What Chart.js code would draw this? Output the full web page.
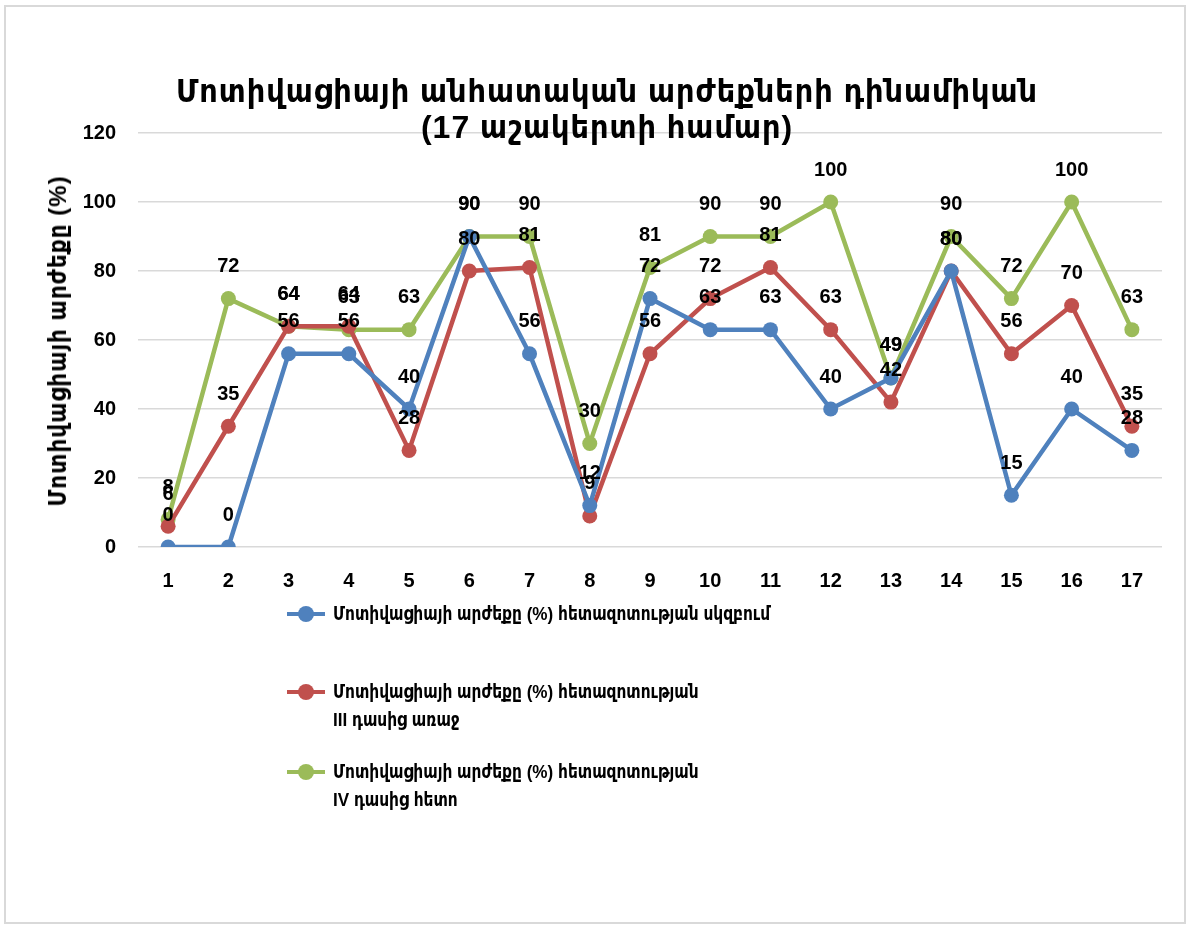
<!DOCTYPE html>
<html>
<head>
<meta charset="utf-8">
<script src="https://cdn.jsdelivr.net/npm/chart.js@4.4.1/dist/chart.umd.min.js"></script>
<style>
  html, body { margin: 0; padding: 0; background: #fff; }
  body { width: 1190px; height: 928px; position: relative; overflow: hidden;
         font-family: 'Liberation Sans', 'DejaVu Sans Condensed', 'DejaVu Sans', sans-serif; font-weight: bold; }
  #frame { position: absolute; left: 4px; top: 5px; width: 1182px; height: 919px; border: 2px solid #d9d9d9; box-sizing: border-box; }
  #wrap { position: absolute; left: 0; top: 0; width: 1190px; height: 928px; }
  #title { position: absolute; left: 0; width: 1214px; top: 73px; text-align: center;
           font-size: 32px; line-height: 36px; letter-spacing: 1px; color: #000; }
  #ytitle { position: absolute; left: 58px; top: 341px; transform: translate(-50%, -50%) rotate(-90deg);
            font-size: 24px; letter-spacing: 1px; white-space: nowrap; color: #000; }
  .leg { position: absolute; left: 287px; font-size: 19px; line-height: 28px; color: #000; }
  .leg .sym { position: absolute; left: 0; top: 12px; width: 38px; height: 4px; }
  .leg .sym i { position: absolute; left: 11px; top: -6px; width: 16px; height: 16px; border-radius: 50%; }
  .leg .txt { margin-left: 46px; white-space: nowrap; transform: scaleX(0.9); transform-origin: left center; }
</style>
</head>
<body>
<div id="frame"></div>
<div id="wrap"><canvas id="c" width="1190" height="928"></canvas></div>
<div id="title">Մոտիվացիայի անհատական արժեքների դինամիկան<br>(17 աշակերտի համար)</div>
<div id="ytitle">Մոտիվացիայի արժեքը (%)</div>
<div id="legend"></div>
<script>
const BLUE  = '#4F81BD';
const RED   = '#C0504D';
const GREEN = '#9BBB59';
const GRID  = '#d9d9d9';
const FONT  = "'Liberation Sans', 'DejaVu Sans Condensed', 'DejaVu Sans', sans-serif";

const students = ['1','2','3','4','5','6','7','8','9','10','11','12','13','14','15','16','17'];
const startVals  = [0, 0, 56, 56, 40, 90, 56, 12, 72, 63, 63, 40, 49, 80, 15, 40, 28];
const beforeIII  = [6, 35, 64, 64, 28, 80, 81, 9, 56, 72, 81, 63, 42, 80, 56, 70, 35];
const afterIV    = [8, 72, 64, 63, 63, 90, 90, 30, 81, 90, 90, 100, 49, 90, 72, 100, 63];
const yTicks     = [0, 20, 40, 60, 80, 100, 120];

const seriesNames = [
  ['Մոտիվացիայի արժեքը (%) հետազոտության սկզբում'],
  ['Մոտիվացիայի արժեքը (%) հետազոտության', 'III դասից առաջ'],
  ['Մոտիվացիայի արժեքը (%) հետազոտության', 'IV դասից հետո'],
];
const seriesColors = [BLUE, RED, GREEN];
const seriesData = [startVals, beforeIII, afterIV];

// data labels above each point
const valueLabels = {
  id: 'valueLabels',
  afterDatasetsDraw(chart) {
    const ctx = chart.ctx;
    ctx.save();
    ctx.font = `bold 20px ${FONT}`;
    ctx.fillStyle = '#000';
    ctx.textAlign = 'center';
    ctx.textBaseline = 'middle';
    chart.data.datasets.forEach((ds, i) => {
      chart.getDatasetMeta(i).data.forEach((pt, j) => {
        ctx.fillText(String(ds.data[j]), pt.x, pt.y - 32);
      });
    });
    ctx.restore();
  },
};

new Chart(document.getElementById('c'), {
  type: 'line',
  data: {
    labels: students,
    datasets: seriesData.map((d, i) => ({
      label: seriesNames[i].join(' '),
      data: d,
      borderColor: seriesColors[i],
      backgroundColor: seriesColors[i],
      borderWidth: 4.5,
      pointRadius: 7.5,
      pointHoverRadius: 7.5,
      pointBorderWidth: 0,
      tension: 0,
    })),
  },
  options: {
    responsive: false,
    animation: false,
    layout: { padding: { left: 0, right: 28, top: 133, bottom: 331 } },
    plugins: {
      legend: { display: false },
      title: { display: false },
      tooltip: { enabled: false },
    },
    scales: {
      x: {
        offset: true,
        grid: { display: false },
        border: { display: false },
        ticks: { color: '#000', font: { family: FONT, size: 20, weight: 'bold' }, padding: 14 },
        afterFit(s) { s.height = 50; },
      },
      y: {
        min: 0, max: 120,
        afterBuildTicks(s) { s.ticks = yTicks.map(v => ({ value: v })); },
        grid: { color: GRID, lineWidth: 1.5, drawTicks: false },
        border: { display: false },
        ticks: { color: '#000', font: { family: FONT, size: 20, weight: 'bold' }, padding: 22 },
        afterFit(s) { s.width = 138; },
      },
    },
  },
  plugins: [valueLabels],
});

// legend (html, multi-line entries)
const legendTops = [600, 678, 758];
const legendEl = document.getElementById('legend');
seriesNames.forEach((lines, i) => {
  const item = document.createElement('div');
  item.className = 'leg';
  item.style.top = legendTops[i] + 'px';
  item.innerHTML = `<div class="sym" style="background:${seriesColors[i]}"><i style="background:${seriesColors[i]}"></i></div>` +
    `<div class="txt">${lines.join('<br>')}</div>`;
  legendEl.appendChild(item);
});
</script>
</body>
</html>
